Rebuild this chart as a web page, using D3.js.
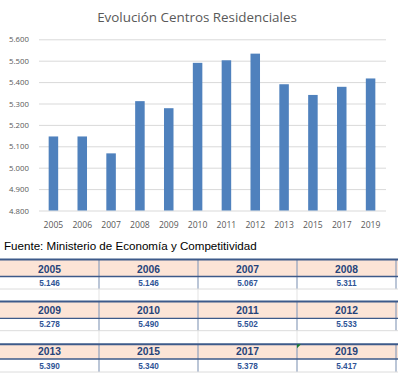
<!DOCTYPE html>
<html><head><meta charset="utf-8">
<script src="https://cdn.jsdelivr.net/npm/d3@7"></script>
<style>html,body{margin:0;padding:0;background:#fff;}svg{display:block;}</style>
</head><body>
<svg id="c" width="400" height="375"></svg>
<script>
const years = ["2005","2006","2007","2008","2009","2010","2011","2012","2013","2015","2017","2019"];
const values = [5146,5146,5067,5311,5278,5490,5502,5533,5390,5340,5378,5417];
const yTicks = [4800,4900,5000,5100,5200,5300,5400,5500,5600];
const title = "Evolución Centros Residenciales";
const source = "Fuente: Ministerio de Economía y Competitividad";

const loc = d3.formatLocale({decimal:",", thousands:".", grouping:[3], currency:["","€"]});
const fmt = loc.format(",.0f");
const svg = d3.select("#c");

const x = d3.scaleBand().domain(years).range([39,385]).paddingInner(0.67).paddingOuter(0.335);
const y = d3.scaleLinear().domain([4800,5600]).range([210.5,39.3]);

svg.append("text").attr("x",197).attr("y",22).attr("text-anchor","middle")
  .attr("font-family","Open Sans").attr("font-size",13.4).attr("fill","#595959").text(title);

const yAxis = svg.append("g").attr("transform","translate(39,0)")
  .call(d3.axisLeft(y).tickValues(yTicks).tickFormat(fmt).tickSize(-347).tickPadding(10));
yAxis.select(".domain").remove();
yAxis.selectAll("line").attr("stroke","#d9d9d9").attr("stroke-width",1);
yAxis.selectAll("text").attr("font-family","Open Sans").attr("font-size",7.8).attr("fill","#595959");

svg.selectAll("rect.bar").data(values).join("rect").attr("class","bar")
  .attr("x",(d,i)=>x(years[i])).attr("width",x.bandwidth())
  .attr("y",d=>y(d)).attr("height",d=>y(4800)-y(d)).attr("fill","#4f81bd");

const xAxis = svg.append("g").attr("transform","translate(0,210.5)")
  .call(d3.axisBottom(x).tickSize(0).tickPadding(11));
xAxis.select(".domain").remove();
xAxis.selectAll("text").attr("font-family","Open Sans").attr("font-size",8.6).attr("fill","#595959");

svg.append("text").attr("x",4).attr("y",250).attr("font-family","Liberation Sans")
  .attr("font-size",11.6).attr("fill","#000").text(source);

// table
const colX = [0,99,198,297,396];
const groups = [0,4,8];
const rowTops = [259.5,301.5,344.3];
const headerH = [17,16.8,14.7];
const valueH = [12.5,12.4,13];
const tbl = svg.append("g");
groups.forEach((g,gi)=>{
  const top = rowTops[gi], hb = top+headerH[gi], vb = hb+valueH[gi];
  tbl.append("rect").attr("x",0).attr("y",top).attr("width",398).attr("height",headerH[gi]).attr("fill","#fce4d6");
  if (gi<2){
    const nextTop = rowTops[gi+1];
    colX.slice(1,4).forEach(cx=>tbl.append("line").attr("x1",cx).attr("x2",cx).attr("y1",vb).attr("y2",nextTop).attr("stroke","#e3e3e3"));
  }
  colX.slice(1).forEach(cx=>tbl.append("line").attr("x1",cx).attr("x2",cx).attr("y1",top).attr("y2",vb).attr("stroke","#8ea0bd").attr("stroke-width",1.2));
  tbl.append("line").attr("x1",0).attr("x2",398).attr("y1",top).attr("y2",top).attr("stroke","#3d5a8a").attr("stroke-width",2);
  tbl.append("line").attr("x1",0).attr("x2",398).attr("y1",hb).attr("y2",hb).attr("stroke","#3d5a8a").attr("stroke-width",1.3);
  tbl.append("line").attr("x1",0).attr("x2",398).attr("y1",vb).attr("y2",vb).attr("stroke","#dcdcdc").attr("stroke-width",1);
  for(let k=0;k<4;k++){
    const i=g+k, cx=(colX[k]+colX[k+1])/2;
    tbl.append("text").attr("x",cx).attr("y",hb-4).attr("text-anchor","middle")
      .attr("font-family","Liberation Sans").attr("font-weight","bold").attr("font-size",10.3)
      .attr("fill","#26437a").text(years[i]);
    tbl.append("text").attr("x",cx).attr("y",vb-3.3).attr("text-anchor","middle")
      .attr("font-family","Liberation Sans").attr("font-weight","bold").attr("font-size",8.2)
      .attr("fill","#2f5496").text(fmt(values[i]));
  }
});
tbl.append("path").attr("d",`M${colX[3]},${rowTops[2]} h4 l-4,4 z`).attr("fill","#1e7b34");
</script>
</body></html>
